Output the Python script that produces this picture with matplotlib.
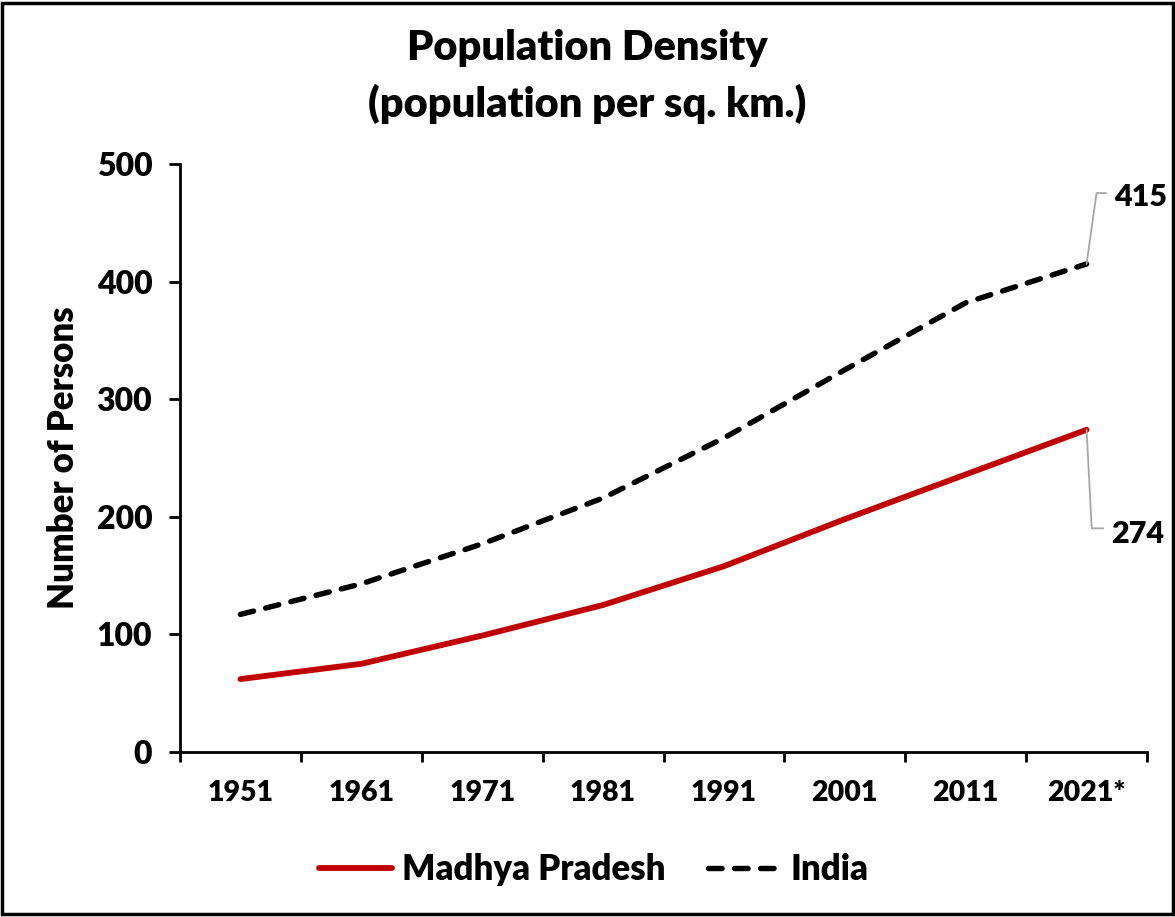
import matplotlib.pyplot as plt
from matplotlib.patches import Rectangle

plt.rcParams['font.family'] = ['Lato', 'DejaVu Sans']
plt.rcParams['font.weight'] = 'heavy'

# Census years and density (persons per sq. km)
years = ["1951", "1961", "1971", "1981", "1991", "2001", "2011", "2021*"]
mp = [62, 75, 99, 125, 158, 198, 236, 274]
india = [117, 143, 177, 216, 267, 325, 382, 415]

fig = plt.figure(figsize=(11.75, 9.17), dpi=100)
ax = fig.add_axes([180/1175, 1 - 752/917, (1147-180)/1175, (752-164)/917])

x = range(len(years))
ax.plot(x, mp, color='#C00000', lw=4.2, solid_capstyle='round', label='Madhya Pradesh')
ax.plot(x, india, color='black', lw=3.9, ls=(0, (2.5, 2.3)), dash_capstyle='round', label='India')

ax.set_xlim(-0.5, len(years) - 0.5)
ax.set_ylim(0, 500)
ax.set_yticks(range(0, 501, 100))
ax.set_xticks([i - 0.5 for i in range(len(years) + 1)], minor=False)
ax.set_xticklabels([])
ax.set_xticks(list(x), minor=True)
ax.set_xticklabels(years, minor=True, fontweight='heavy')
ax.tick_params(axis='x', which='major', length=7, width=2, direction='out')
ax.tick_params(axis='x', which='minor', length=0, pad=20, labelsize=20.5)
ax.tick_params(axis='y', length=8, width=2, labelsize=23, pad=12)
for lab in ax.get_yticklabels():
    lab.set_fontweight('heavy')
for s in ['top', 'right']:
    ax.spines[s].set_visible(False)
for s in ['left', 'bottom']:
    ax.spines[s].set_linewidth(2)

ax.set_ylabel('Number of Persons', fontsize=25, fontweight='heavy', labelpad=12)
fig.suptitle('Population Density\n(population per sq. km.)', fontsize=30,
             fontweight='heavy', y=0.968, linespacing=1.5)

# end labels with leader lines
ax.annotate(str(india[-1]), xy=(7, india[-1]), xytext=(20, 48), textcoords='offset points',
            fontsize=22, fontweight='heavy', ha='left', va='center',
            arrowprops=dict(arrowstyle='-', color='#A6A6A6', lw=1.3, shrinkA=4, shrinkB=0,
                            relpos=(0, 0.65), connectionstyle='angle,angleA=0,angleB=82,rad=0'))
ax.annotate(str(mp[-1]), xy=(7, mp[-1]), xytext=(18, -75), textcoords='offset points',
            fontsize=22, fontweight='heavy', ha='left', va='center',
            arrowprops=dict(arrowstyle='-', color='#A6A6A6', lw=1.3, shrinkA=4, shrinkB=0,
                            relpos=(0, 0.7), connectionstyle='angle,angleA=0,angleB=-87,rad=0'))

leg = ax.legend(loc='center', bbox_to_anchor=((594 - 180)/967, -0.2),
                ncol=2, frameon=False, fontsize=25, handlelength=2.1, columnspacing=1.2,
                handletextpad=0.3)

fig.add_artist(Rectangle((0.002, 0.003), 0.996, 0.994, transform=fig.transFigure,
                         fill=False, lw=2.5, ec='black'))

fig.savefig('out.png', dpi=100)
